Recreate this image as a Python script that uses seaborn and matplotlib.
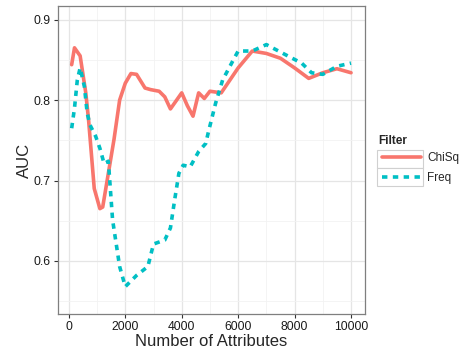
import matplotlib
matplotlib.use("Agg")
import matplotlib.pyplot as plt
import seaborn as sns
import pandas as pd
from matplotlib.ticker import MultipleLocator
from matplotlib.patches import Rectangle

chisq_x = [100, 200, 400, 600, 700, 900, 1100, 1200, 1400, 1600, 1800, 2000, 2200, 2400,
           2700, 2900, 3200, 3400, 3600, 4000, 4200, 4400, 4600, 4800, 5000, 5400, 6000,
           6500, 7000, 7500, 8000, 8500, 9000, 9500, 10000]
chisq_y = [0.844, 0.865, 0.855, 0.809, 0.775, 0.690, 0.665, 0.667, 0.709, 0.751, 0.800,
           0.821, 0.833, 0.832, 0.815, 0.813, 0.811, 0.804, 0.789, 0.809, 0.793, 0.780,
           0.809, 0.802, 0.811, 0.809, 0.840, 0.861, 0.858, 0.852, 0.840, 0.827, 0.834,
           0.839, 0.834]
freq_x = [100, 200, 300, 400, 550, 650, 750, 950, 1100, 1250, 1400, 1550, 1800, 2000,
          2400, 2800, 3000, 3400, 3600, 3750, 3900, 4050, 4300, 4600, 4850, 4950, 5200,
          5450, 5800, 6000, 6500, 7000, 7700, 8250, 8600, 9000, 9500, 10000]
freq_y = [0.765, 0.790, 0.825, 0.840, 0.817, 0.784, 0.769, 0.755, 0.740, 0.721, 0.724,
          0.651, 0.593, 0.568, 0.582, 0.593, 0.621, 0.626, 0.641, 0.676, 0.709, 0.719,
          0.717, 0.736, 0.746, 0.761, 0.796, 0.825, 0.848, 0.861, 0.861, 0.869, 0.856,
          0.846, 0.834, 0.832, 0.842, 0.846]
filters = ["ChiSq", "Freq"]
x_ticks = [0, 2000, 4000, 6000, 8000, 10000]
y_ticks = [0.6, 0.7, 0.8, 0.9]

df = pd.DataFrame({
    "Number of Attributes": chisq_x + freq_x,
    "AUC": chisq_y + freq_y,
    "Filter": [filters[0]] * len(chisq_x) + [filters[1]] * len(freq_x),
})

sns.set_theme(style="white")
plt.rcParams["font.family"] = ["Liberation Sans", "DejaVu Sans"]

W, H = 470, 352
fig = plt.figure(figsize=(W / 100, H / 100), dpi=100)
ax = fig.add_axes([57.7 / W, 1 - 314 / H, (365 - 57.7) / W, (314 - 6) / H])

sns.lineplot(data=df, x="Number of Attributes", y="AUC", hue="Filter", style="Filter",
             hue_order=filters, style_order=filters,
             palette={"ChiSq": "#F8766D", "Freq": "#00BFC4"},
             dashes={"ChiSq": "", "Freq": (1.5, 1.5)},
             linewidth=2.6, sort=False, estimator=None, ax=ax)

ax.set_xlim(-395, 10495)
ax.set_ylim(0.534, 0.917)
ax.set_xticks(x_ticks)
ax.set_xticklabels([str(v) for v in x_ticks])
ax.set_yticks(y_ticks)
ax.set_yticklabels([f"{v:.1f}" for v in y_ticks])
ax.xaxis.set_minor_locator(MultipleLocator(1000))
ax.yaxis.set_minor_locator(MultipleLocator(0.05))
ax.grid(which="major", color="#E5E5E5", linewidth=0.9)
ax.grid(which="minor", color="#F2F2F2", linewidth=0.6)
ax.set_axisbelow(True)
for s in ax.spines.values():
    s.set_color("#7F7F7F")
    s.set_linewidth(0.9)
ax.tick_params(axis="both", which="major", length=3, width=0.8, color="#333333",
               labelsize=8.7, labelcolor="#1a1a1a", pad=2, bottom=True, left=True)
ax.tick_params(axis="both", which="minor", length=0)
ax.set_xlabel("Number of Attributes", fontsize=12, labelpad=0.5)
ax.set_ylabel("AUC", fontsize=12, labelpad=1)

handles, labels = ax.get_legend_handles_labels()
ax.get_legend().remove()

# legend key boxes (ggplot style)
for top in (150, 168):
    fig.add_artist(Rectangle((377 / W, 1 - (top + 18) / H), 46 / W, 18 / H,
                             transform=fig.transFigure, facecolor="white",
                             edgecolor="#D0D0D0", linewidth=0.8, zorder=1))

fig.text(378 / W, 1 - 141 / H, "Filter", fontsize=8.5, fontweight="bold",
         ha="left", va="center")

leg = fig.legend(handles, labels, loc="upper left",
                 bbox_to_anchor=(382 / W, 1 - 152 / H), bbox_transform=fig.transFigure,
                 frameon=False, fontsize=8.5, handlelength=3.3,
                 borderpad=0, borderaxespad=0, handletextpad=0.55,
                 labelspacing=0.69)
leg.set_zorder(3)

fig.savefig("out.png", dpi=100)
